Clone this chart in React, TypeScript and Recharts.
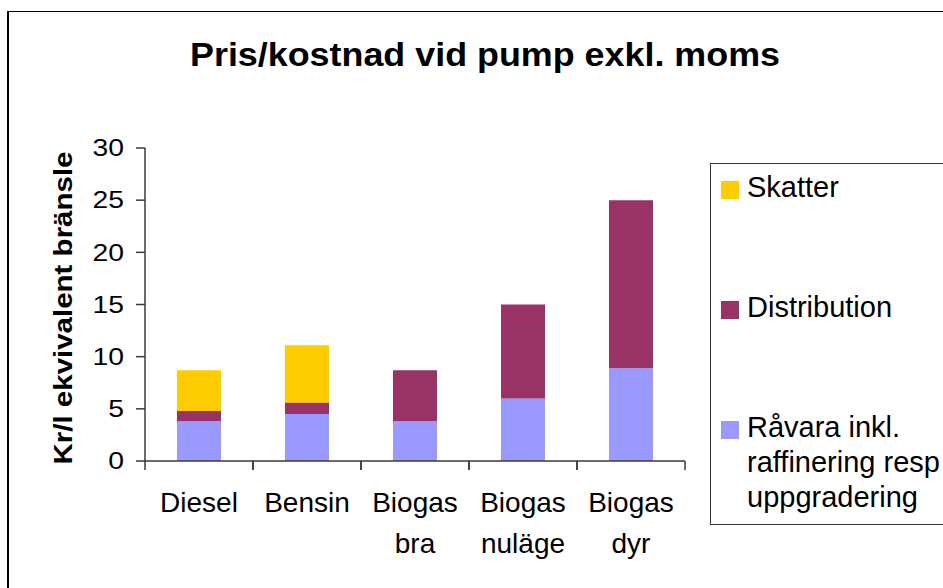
import { BarChart, Bar, XAxis, YAxis, Legend, Label } from "recharts";

// price components per fuel, kr per litre equivalent
const categories = ["Diesel", "Bensin", "Biogas bra", "Biogas nuläge", "Biogas dyr"];
const raavara = [3.8, 4.5, 3.8, 6.0, 8.9];
const distribution = [1.0, 1.1, 4.9, 9.0, 16.1];
const skatter = [3.9, 5.5, 0, 0, 0];
const yTicks = [0, 5, 10, 15, 20, 25, 30];
const legendOrder = ["skatter", "distribution", "raavara"];

const data = categories.map((name, i) => ({
  name,
  raavara: raavara[i],
  distribution: distribution[i],
  skatter: skatter[i],
}));

const W = 943;
const H = 588;
const FONT = "'Liberation Sans', Arial, sans-serif";

function CategoryTick(props: any) {
  const { x, y, payload, width } = props;
  const half = width / categories.length / 2;
  const lines = String(payload.value).split(" ");
  return (
    <g>
      <line x1={x - half} x2={x - half} y1={y} y2={y + 9} stroke="#3a3a3a" strokeWidth={1.5} />
      <line x1={x + half} x2={x + half} y1={y} y2={y + 9} stroke="#3a3a3a" strokeWidth={1.5} />
      {lines.map((l, i) => (
        <text key={i} x={x} y={y + 51 + i * 41} textAnchor="middle" fontSize={28} fill="#000" fontFamily={FONT}>
          {l}
        </text>
      ))}
    </g>
  );
}

function ValueTick(props: any) {
  const { x, y, payload } = props;
  return (
    <text
      transform={`translate(${x},${y}) scale(1.18,1)`}
      textAnchor="end"
      dominantBaseline="central"
      fontSize={24}
      fill="#000"
      fontFamily={FONT}
    >
      {payload.value}
    </text>
  );
}

function LegendBox(props: any) {
  const items = [...(props.payload || [])].sort(
    (a: any, b: any) => legendOrder.indexOf(a.dataKey) - legendOrder.indexOf(b.dataKey)
  );
  return (
    <div
      style={{
        boxSizing: "border-box",
        width: 260,
        height: 362,
        border: "1px solid #333",
        background: "#fff",
        padding: "6px 0 0 10px",
        fontFamily: FONT,
        fontSize: 29,
        lineHeight: "35px",
        color: "#000",
      }}
    >
      {items.map((it: any) => (
        <div key={it.value} style={{ display: "flex", alignItems: "flex-start", marginBottom: 85 }}>
          <span style={{ width: 18, height: 18, background: it.color, marginTop: 11, marginRight: 8, flexShrink: 0 }} />
          <span style={{ width: 200 }}>{it.value}</span>
        </div>
      ))}
    </div>
  );
}

export default function App() {
  return (
    <div style={{ position: "relative", width: W, height: H, overflow: "hidden", background: "#fff" }}>
      <style>{"body{margin:0}"}</style>
      <div
        style={{
          position: "absolute",
          left: 7,
          top: 11,
          width: 1000,
          height: 1000,
          borderTop: "1px solid #000",
          borderLeft: "2px solid #000",
        }}
      />
      <div style={{ position: "absolute", left: 0, top: 0 }}>
        <BarChart width={W} height={H} data={data} margin={{ top: 148, right: 258, bottom: 27, left: 85 }} barSize={44}>
          <text x={485} y={66} textAnchor="middle" fontSize={33} fontWeight="bold" fontFamily={FONT} textLength={590} lengthAdjust="spacingAndGlyphs">
            Pris/kostnad vid pump exkl. moms
          </text>
          <XAxis
            dataKey="name"
            height={100}
            tickLine={false}
            tickSize={0}
            tickMargin={0}
            interval={0}
            axisLine={{ stroke: "#3a3a3a", strokeWidth: 1.5 }}
            tick={<CategoryTick />}
          />
          <YAxis
            width={60}
            domain={[0, 30]}
            ticks={yTicks}
            tickSize={9}
            tickMargin={12}
            interval={0}
            axisLine={{ stroke: "#3a3a3a", strokeWidth: 1.5 }}
            tickLine={{ stroke: "#3a3a3a", strokeWidth: 1.5 }}
            tick={<ValueTick />}
          >
            <Label
              content={() => (
                <text
                  x={63}
                  y={308}
                  transform="rotate(-90, 63, 308)"
                  textAnchor="middle"
                  dominantBaseline="central"
                  fontSize={26}
                  fontWeight="bold"
                  fontFamily={FONT}
                  textLength={313}
                  lengthAdjust="spacingAndGlyphs"
                >
                  Kr/l ekvivalent bränsle
                </text>
              )}
            />
          </YAxis>
          <Legend
            layout="horizontal"
            verticalAlign="middle"
            align="center"
            wrapperStyle={{ left: 710, top: 163, width: 260, height: 362 }}
            content={<LegendBox />}
          />
          <Bar dataKey="raavara" name="Råvara inkl. raffinering resp uppgradering" stackId="a" fill="#9999FF" isAnimationActive={false} />
          <Bar dataKey="distribution" name="Distribution" stackId="a" fill="#993366" isAnimationActive={false} />
          <Bar dataKey="skatter" name="Skatter" stackId="a" fill="#FFCC00" isAnimationActive={false} />
        </BarChart>
      </div>
    </div>
  );
}
